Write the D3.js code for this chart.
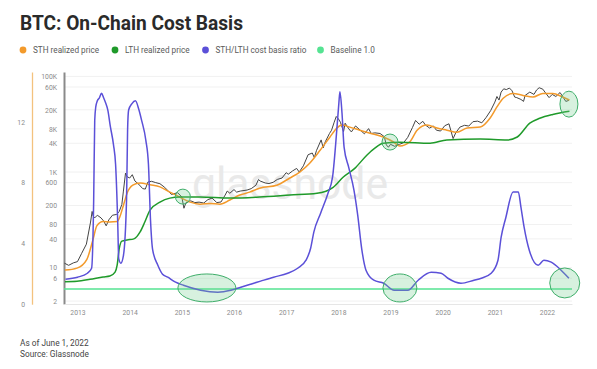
<!DOCTYPE html>
<html><head><meta charset="utf-8">
<script src="https://cdn.jsdelivr.net/npm/d3@7"></script>
<style>
body{margin:0;background:#fff;}
svg{display:block;}
text{font-family:Roboto, "Noto Sans", sans-serif;}
</style></head>
<body>
<svg id="c" width="597" height="369"></svg>
<script>
// ---------- data ----------
const years = [2013,2014,2015,2016,2017,2018,2019,2020,2021,2022];
const priceTicks = [2,6,10,40,80,200,600,1000,4000,8000,20000,60000,100000];
const priceTickLabels = ["2","6","10","40","80","200","600","1K","4K","8K","20K","60K","100K"];
const ratioTicks = [0,4,8,12];
const baselineValue = 1.0;

const priceDates = [2012.75,2012.83,2012.92,2013.0,2013.08,2013.17,2013.25,2013.28,2013.30,2013.33,2013.38,2013.45,2013.5,2013.55,2013.6,2013.67,2013.75,2013.8,2013.85,2013.88,2013.92,2013.95,2014.0,2014.05,2014.1,2014.17,2014.25,2014.3,2014.35,2014.42,2014.5,2014.58,2014.67,2014.75,2014.8,2014.92,2015.0,2015.04,2015.08,2015.17,2015.25,2015.33,2015.42,2015.5,2015.58,2015.67,2015.75,2015.83,2015.87,2015.92,2016.0,2016.05,2016.12,2016.25,2016.33,2016.42,2016.47,2016.5,2016.6,2016.67,2016.75,2016.83,2016.92,2017.0,2017.04,2017.12,2017.2,2017.25,2017.33,2017.42,2017.5,2017.54,2017.58,2017.67,2017.71,2017.75,2017.83,2017.87,2017.92,2017.96,2018.0,2018.04,2018.1,2018.13,2018.2,2018.25,2018.33,2018.42,2018.5,2018.58,2018.63,2018.7,2018.8,2018.88,2018.92,2018.96,2019.0,2019.08,2019.17,2019.25,2019.33,2019.42,2019.48,2019.55,2019.62,2019.67,2019.75,2019.82,2019.88,2019.96,2020.04,2020.12,2020.2,2020.25,2020.33,2020.42,2020.5,2020.58,2020.67,2020.75,2020.83,2020.92,2021.0,2021.04,2021.08,2021.12,2021.17,2021.22,2021.28,2021.33,2021.38,2021.42,2021.5,2021.55,2021.58,2021.67,2021.75,2021.8,2021.85,2021.92,2021.96,2022.04,2022.1,2022.17,2022.25,2022.3,2022.36,2022.42];
const priceValues = [12.4,11.2,12.6,13.4,20,31,90,150,120,110,125,110,95,75,100,125,130,150,210,400,950,800,750,880,650,560,450,440,620,640,600,570,480,390,340,370,300,175,230,250,230,235,225,265,285,230,236,330,400,360,430,380,400,420,450,530,700,650,590,575,610,700,750,970,900,1050,1190,1000,1350,2300,2500,2000,2800,4700,3200,4300,6400,7500,11000,14500,13000,11000,7000,10500,8000,6900,9200,7500,6300,8100,6400,6600,6400,5500,3700,3300,3800,3450,3800,4100,5300,8500,12000,10000,11500,9600,8300,9200,7500,7200,9300,10200,5000,6600,8700,9500,9150,11300,11600,10700,13700,19300,29000,38000,32000,47000,55000,53000,57000,50000,37000,36000,33000,30000,40000,47000,42000,52000,58000,54000,47000,36000,42000,38000,46000,38000,30000,31500];

const sthDates = [2012.76,2012.99,2013.18,2013.30,2013.37,2013.49,2013.62,2013.76,2013.81,2013.89,2013.95,2014.06,2014.20,2014.39,2014.58,2014.77,2014.96,2015.16,2015.35,2015.54,2015.73,2015.92,2016.11,2016.30,2016.49,2016.82,2017.07,2017.26,2017.45,2017.65,2017.84,2017.97,2018.07,2018.22,2018.41,2018.61,2018.86,2019.05,2019.18,2019.37,2019.51,2019.70,2019.89,2020.08,2020.27,2020.47,2020.72,2020.91,2021.04,2021.16,2021.35,2021.54,2021.73,2021.92,2022.11,2022.30,2022.43];
const sthValues = [8.9,9.8,15,40,75,92,90,92,115,220,360,530,590,540,490,380,300,235,213,220,213,260,330,380,460,530,750,1000,1530,2850,5400,8300,9600,8700,7500,6500,5400,4300,3500,4300,7500,9600,8300,7500,6800,8300,8700,13500,23000,35000,44000,40000,37000,44000,44000,37000,32000];

const lthDates = [2012.76,2012.99,2013.24,2013.49,2013.62,2013.72,2013.76,2013.80,2013.85,2013.95,2014.08,2014.20,2014.29,2014.39,2014.58,2014.77,2014.96,2015.35,2015.92,2016.49,2017.07,2017.59,2017.90,2018.09,2018.32,2018.55,2018.70,2018.86,2019.18,2019.76,2020.08,2020.72,2021.24,2021.43,2021.67,2021.86,2022.11,2022.43];
const lthValues = [5.1,5.2,5.7,6.4,6.7,8.1,11.3,25,36,38,40,56,90,160,235,285,300,300,285,300,330,360,480,780,1210,2280,3150,4000,4200,4000,4700,4900,4700,5400,10500,13300,16000,18600];

const ratioDates = [2012.77,2013.0,2013.19,2013.27,2013.31,2013.33,2013.35,2013.38,2013.42,2013.46,2013.50,2013.54,2013.58,2013.63,2013.69,2013.73,2013.77,2013.79,2013.83,2013.88,2013.94,2013.96,2013.98,2014.04,2014.11,2014.17,2014.23,2014.31,2014.36,2014.40,2014.44,2014.54,2014.63,2014.73,2014.88,2015.03,2015.36,2015.69,2015.94,2016.13,2016.32,2016.51,2016.76,2017.03,2017.22,2017.38,2017.47,2017.53,2017.66,2017.80,2017.89,2017.95,2018.01,2018.03,2018.07,2018.11,2018.20,2018.30,2018.37,2018.45,2018.53,2018.68,2018.87,2019.07,2019.33,2019.53,2019.78,2019.97,2020.10,2020.35,2020.60,2020.74,2020.93,2021.06,2021.12,2021.21,2021.35,2021.45,2021.50,2021.56,2021.66,2021.83,2021.94,2022.08,2022.27,2022.42];
const ratioValues = [1.65,1.78,2.04,2.37,6.86,12.1,13.0,13.4,13.6,13.9,13.6,13.25,12.8,11.7,10.5,9.2,5.5,3.0,2.7,3.2,6.9,11.5,12.8,13.2,13.4,12.9,12.1,10.8,9.2,5.5,3.6,2.57,1.98,1.78,1.45,1.25,0.92,0.79,0.92,1.12,1.32,1.52,1.78,2.04,2.37,2.9,3.7,4.75,6.0,7.3,8.4,10.6,13.25,14.0,12.6,10.35,9.0,7.5,5.9,3.6,2.24,1.58,1.38,0.92,0.92,1.58,2.1,2.04,1.71,1.38,1.58,1.71,2.04,2.9,4.4,5.7,7.4,7.4,6.4,5.1,3.56,2.57,2.9,2.77,2.24,1.71];

// annotation ellipses: centre in data units, axis it refers to
const highlightDates = [2015.02,2015.48,2018.99,2019.18,2022.42,2022.34];
const highlightValues = [306,1.07,4240,1.07,26300,1.40];
const highlightAxis = ["price","ratio","price","ratio","price","ratio"];
const highlightRx = [7.5,29,8,17,9,15];
const highlightRy = [7.5,14,8,14,13,15];

const legendLabels = ["STH realized price","LTH realized price","STH/LTH cost basis ratio","Baseline 1.0"];
const colors = {sth:"#f39a2b", lth:"#1f9a2a", ratio:"#5b50d8", base:"#55e392", price:"#444444"};
const legendColors = [colors.sth, colors.lth, colors.ratio, colors.base];

// ---------- scales ----------
const svg = d3.select("#c");
const x = d3.scaleLinear().domain([2012.741, 2022.479]).range([64, 572]);
const yP = d3.scaleLog().domain([1.74, 123600]).range([304, 72]);
const yR = d3.scaleLinear().domain([0, 15.3]).range([304.2, 72]);

// title
svg.append("text").attr("x",20).attr("y",30).attr("font-size",20).attr("font-weight",700)
  .attr("fill","#2a2a2a").attr("textLength",223).attr("lengthAdjust","spacingAndGlyphs")
  .text("BTC: On-Chain Cost Basis");

// legend
const legX = [23,115,205.5,320.5];
const leg = svg.append("g");
legendLabels.forEach((l,i)=>{
  leg.append("circle").attr("cx",legX[i]).attr("cy",50).attr("r",3.4).attr("fill",legendColors[i]);
  leg.append("text").attr("x",legX[i]+10).attr("y",53).attr("font-size",8.2).attr("fill","#5a5a5a").text(l);
});

// gridlines
svg.append("g").selectAll("line").data(priceTicks).join("line")
  .attr("x1",64).attr("x2",572).attr("y1",d=>yP(d)).attr("y2",d=>yP(d))
  .attr("stroke","#f1f1f1").attr("stroke-width",1);

// watermark
svg.append("text").attr("x",290).attr("y",199).attr("text-anchor","middle")
  .attr("font-size",44).attr("fill","#e9e9e9").attr("textLength",196)
  .attr("lengthAdjust","spacingAndGlyphs").text("glassnode");

// axes
const axP = svg.append("g").attr("transform","translate(64,0)")
  .call(d3.axisLeft(yP).tickValues(priceTicks).tickFormat((d,i)=>priceTickLabels[i]).tickSize(0).tickPadding(7));
axP.select(".domain").attr("stroke","#8a8a8a").attr("stroke-width",2);
axP.selectAll("text").attr("font-size",6.8).attr("fill","#8c8c8c").attr("font-family","Roboto, sans-serif");

const axR = svg.append("g").attr("transform","translate(32,0)")
  .call(d3.axisLeft(yR).tickValues(ratioTicks).tickSize(0).tickPadding(7));
axR.select(".domain").attr("stroke","#f3c27e").attr("stroke-width",1.3);
axR.selectAll("text").attr("font-size",6.8).attr("fill","#8c8c8c").attr("font-family","Roboto, sans-serif");

const axX = svg.append("g").attr("transform","translate(0,304)")
  .call(d3.axisBottom(x).tickValues(years).tickFormat(d3.format("d")).tickSize(0).tickPadding(6));
axX.select(".domain").attr("stroke","#e6e6e6");
axX.selectAll("text").attr("font-size",6.8).attr("fill","#8c8c8c").attr("font-family","Roboto, sans-serif");

// baseline
svg.append("line").attr("x1",x(2012.741)).attr("x2",x(2022.479))
  .attr("y1",yR(baselineValue)).attr("y2",yR(baselineValue))
  .attr("stroke",colors.base).attr("stroke-width",1.6);

// lines
const mk = (dates, vals) => dates.map((d,i)=>[d, vals[i]]);
const lineP = d3.line().x(d=>x(d[0])).y(d=>yP(d[1]));
const lineS = d3.line().x(d=>x(d[0])).y(d=>yP(d[1])).curve(d3.curveMonotoneX);
const lineR = d3.line().x(d=>x(d[0])).y(d=>yR(d[1])).curve(d3.curveMonotoneX);

svg.append("path").attr("d",lineP(mk(priceDates,priceValues))).attr("fill","none")
  .attr("stroke",colors.price).attr("stroke-width",1).attr("stroke-linejoin","round");
svg.append("path").attr("d",lineS(mk(sthDates,sthValues))).attr("fill","none")
  .attr("stroke",colors.sth).attr("stroke-width",1.5);
svg.append("path").attr("d",lineS(mk(lthDates,lthValues))).attr("fill","none")
  .attr("stroke",colors.lth).attr("stroke-width",1.5);
svg.append("path").attr("d",lineR(mk(ratioDates,ratioValues))).attr("fill","none")
  .attr("stroke",colors.ratio).attr("stroke-width",1.5);

// highlights
svg.append("g").selectAll("ellipse").data(highlightDates).join("ellipse")
  .attr("cx",d=>x(d))
  .attr("cy",(d,i)=> highlightAxis[i]==="price" ? yP(highlightValues[i]) : yR(highlightValues[i]))
  .attr("rx",(d,i)=>highlightRx[i]).attr("ry",(d,i)=>highlightRy[i])
  .attr("fill","rgba(110,205,140,0.28)").attr("stroke","#3fae6a").attr("stroke-width",1);

// footer
svg.append("text").attr("x",20).attr("y",346).attr("font-size",8.3).attr("fill","#444").text("As of June 1, 2022");
svg.append("text").attr("x",20).attr("y",357).attr("font-size",8.3).attr("fill","#444").text("Source: Glassnode");
</script>
</body></html>
